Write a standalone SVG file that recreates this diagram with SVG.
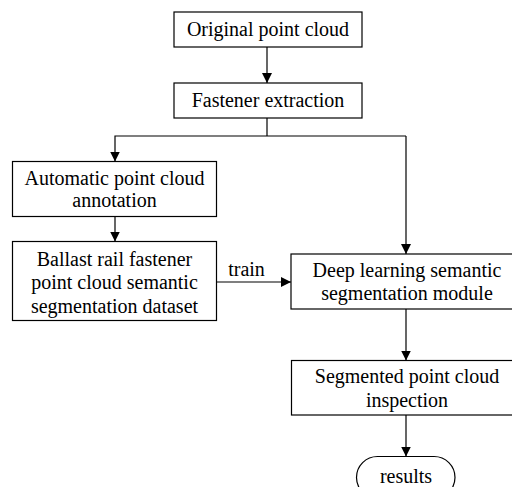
<svg xmlns="http://www.w3.org/2000/svg" width="512" height="487" viewBox="0 0 512 487" font-family="'Liberation Serif', 'Times New Roman', serif">
<style>
.box{fill:#fff;stroke:#000;stroke-width:1.2}
.t{font-family:'Liberation Serif','Times New Roman',serif;font-size:20px;fill:#000;text-anchor:middle}
.c{fill:none;stroke:#000;stroke-width:1.2}
</style>
<defs>
<marker id="ah" markerWidth="10" markerHeight="11" refX="10" refY="5" orient="auto" markerUnits="userSpaceOnUse" viewBox="0 0 10 10">
<path d="M0,0 L10,5 L0,10 Z" fill="#000"/>
</marker>
</defs>
<rect width="512" height="487" fill="#fff"/>
<g id="connectors">
<line class="c" x1="267" y1="47" x2="267" y2="83" marker-end="url(#ah)"/>
<polyline class="c" points="267,118 267,136"/>
<polyline class="c" points="406,136 115,136 115,161.5" marker-end="url(#ah)"/>
<line class="c" x1="406" y1="136" x2="406" y2="254" marker-end="url(#ah)"/>
<line class="c" x1="115" y1="216.5" x2="115" y2="241.5" marker-end="url(#ah)"/>
<line class="c" x1="216.5" y1="282" x2="291" y2="282" marker-end="url(#ah)"/>
<line class="c" x1="406" y1="309" x2="406" y2="360.5" marker-end="url(#ah)"/>
<line class="c" x1="406" y1="415" x2="406" y2="456.5" marker-end="url(#ah)"/>
<text class="t" x="246.5" y="276">train</text>
</g>
<g id="n1">
<rect class="box" x="174" y="12" width="188" height="35"/>
<text class="t" x="268" y="36">Original point cloud</text>
</g>
<g id="n2">
<rect class="box" x="174" y="83" width="188" height="35"/>
<text class="t" x="268" y="107">Fastener extraction</text>
</g>
<g id="n3">
<rect class="box" x="12.5" y="161.5" width="204" height="55"/>
<text class="t" x="114.5" y="185">Automatic point cloud</text>
<text class="t" x="114.5" y="207">annotation</text>
</g>
<g id="n4">
<rect class="box" x="12.5" y="241.5" width="204" height="79"/>
<text class="t" x="114.5" y="266">Ballast rail fastener</text>
<text class="t" x="114.5" y="289">point cloud semantic</text>
<text class="t" x="114.5" y="312.5">segmentation dataset</text>
</g>
<g id="n5">
<rect class="box" x="291" y="254" width="232" height="55"/>
<text class="t" x="407" y="277">Deep learning semantic</text>
<text class="t" x="407" y="300">segmentation module</text>
</g>
<g id="n6">
<rect class="box" x="291.5" y="360.5" width="232" height="54.5"/>
<text class="t" x="407" y="383">Segmented point cloud</text>
<text class="t" x="407" y="406.5">inspection</text>
</g>
<g id="n7">
<rect class="box" x="356.5" y="456.5" width="98.5" height="42" rx="21" ry="21"/>
<text class="t" x="406" y="483">results</text>
</g>
</svg>
